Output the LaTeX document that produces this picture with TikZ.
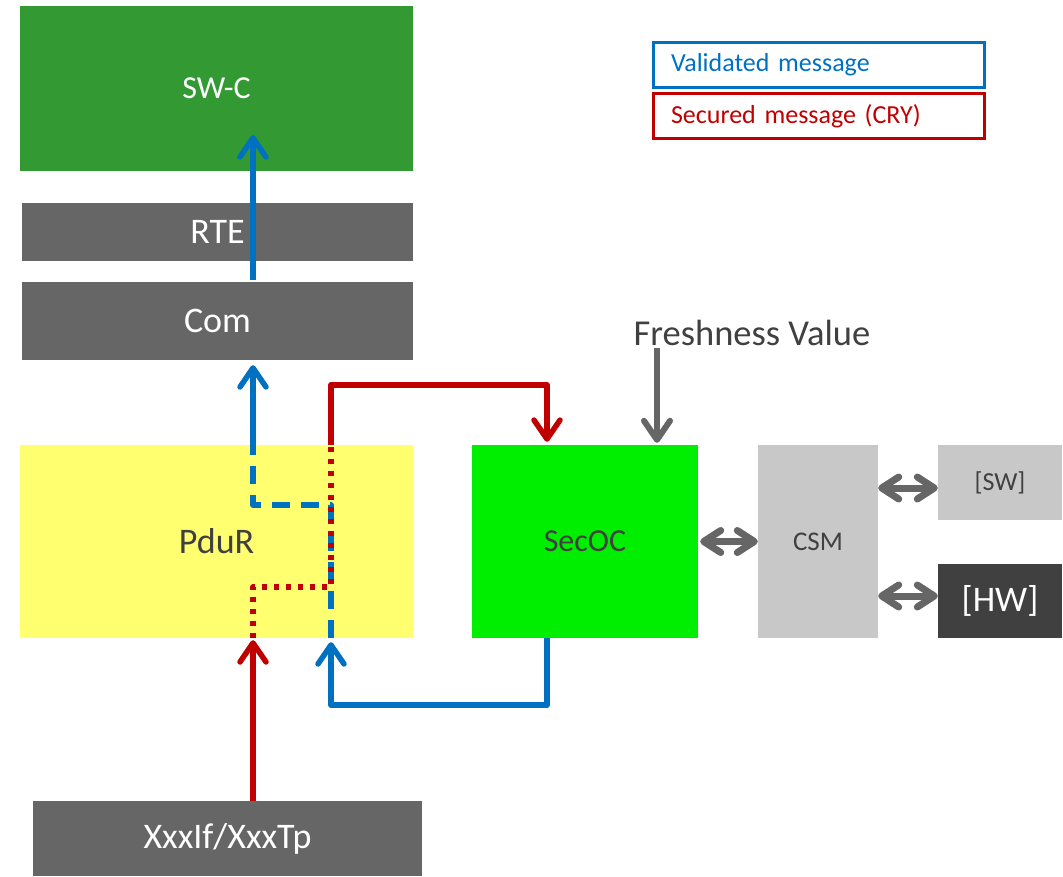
\documentclass[tikz,border=0pt]{standalone}
\usepackage{fontspec}
\setmainfont{Carlito}
\usepackage{tikz}
\usetikzlibrary{arrows.meta,positioning}
\definecolor{swcgreen}{HTML}{339933}
\definecolor{layergray}{HTML}{666666}
\definecolor{pduryellow}{HTML}{FFFF70}
\definecolor{secocgreen}{HTML}{00EE00}
\definecolor{csmgray}{HTML}{C8C8C8}
\definecolor{darkgray}{HTML}{404040}
\definecolor{validblue}{HTML}{0070C0}
\definecolor{securedred}{HTML}{C00000}
\tikzset{
  layer/.style={rectangle, inner sep=0pt, text=white, font=\fontsize{36}{40}\selectfont},
  module/.style={layer, text=darkgray},
  legend/.style={rectangle, draw, line width=3pt, inner xsep=18pt, inner ysep=0pt, minimum height=45pt, text width=295pt, align=left, font=\fontsize{26}{30}\selectfont},
  arr/.style={-{Straight Barb[length=19pt, width=26pt, line cap=round, line join=round]}},
  valid/.style={draw=validblue, line width=5.5pt, line join=round},
  validdash/.style={valid, dash pattern=on 18pt off 11pt},
  secured/.style={draw=securedred, line width=5.5pt, line join=round},
  secureddot/.style={secured, dash pattern=on 5.5pt off 6.5pt},
  grayarr/.style={draw=layergray, line width=6pt, -{Straight Barb[length=19pt, width=26pt, line cap=round, line join=round]}},
  biarr/.style={draw=layergray, line width=7pt, {Straight Barb[length=17pt, width=22pt, line cap=round, line join=round]}-{Straight Barb[length=17pt, width=22pt, line cap=round, line join=round]}}
}
\begin{document}
\begin{tikzpicture}[x=1pt, y=-1pt]
\useasboundingbox (0,0) rectangle (1063,876);
\node[layer, fill=swcgreen, minimum width=393pt, minimum height=165pt, font=\fontsize{32}{36}\selectfont] (swc) at (216.5,88.5) {SW-C};
\node[layer, fill=layergray, minimum width=391pt, minimum height=58pt] (rte) at (217.5,232) {RTE};
\node[layer, fill=layergray, minimum width=391pt, minimum height=78pt] (com) at (217.5,321) {Com};
\node[module, fill=pduryellow, minimum width=393pt, minimum height=193pt] (pdur) at (216.5,541.5) {PduR};
\node[module, fill=secocgreen, minimum width=226pt, minimum height=193pt, font=\fontsize{32}{36}\selectfont] (secoc) at (585,541.5) {SecOC};
\node[module, fill=csmgray, minimum width=120pt, minimum height=193pt, font=\fontsize{27}{30}\selectfont] (csm) at (818,541.5) {CSM};
\node[module, fill=csmgray, minimum width=124pt, minimum height=75pt, font=\fontsize{26}{30}\selectfont] (sw) at (1000,482.5) {[SW]};
\node[layer, fill=darkgray, minimum width=124pt, minimum height=74pt] (hw) at (1000,601) {[HW]};
\node[layer, fill=layergray, minimum width=389pt, minimum height=75pt] (xxx) at (227.5,838.5) {XxxIf/XxxTp};
\node[module, fill=none, inner sep=2pt, font=\fontsize{36.5}{40}\selectfont] (fresh) at (752,333) {Freshness Value};
\node[legend, draw=validblue, text=validblue] (lgvalid) at (818.5,64.5) {Validated message};
\node[legend, draw=securedred, text=securedred] (lgsecured) at (818.5,116) {Secured message (CRY)};

\coordinate (laneA) at (253,0);
\coordinate (laneB) at (331,0);
\coordinate (laneC) at (547,0);
\coordinate (laneD) at (657,0);

\draw[valid, arr] ([yshift=2pt]com.north -| laneA) -- ([yshift=36pt]swc.south -| laneA);
\draw[valid, arr] (secoc.south -| laneC) -- ++(0,67) -| ([yshift=-4pt]pdur.south -| laneB);
\draw[validdash] (pdur.south -| laneB) |- ([yshift=36.5pt]pdur.center -| laneA) -- (pdur.north -| laneA);
\draw[valid, arr] (pdur.north -| laneA) -- ([yshift=-5pt]com.south -| laneA);

\draw[secured, arr] (xxx.north -| laneA) -- ([yshift=-2pt]pdur.south -| laneA);
\draw[secureddot] (pdur.south -| laneA) |- ([yshift=-45.5pt]pdur.center -| laneB) -- (pdur.north -| laneB);
\draw[secured, arr] (pdur.north -| laneB) -- ++(0,-60) -| ([yshift=3pt]secoc.north -| laneC);

\draw[grayarr] (fresh.south -| laneD) -- ([yshift=2pt]secoc.north -| laneD);
\draw[biarr] ([xshift=2pt]secoc.east) -- (csm.west);
\draw[biarr] ([yshift=-5.5pt]csm.east |- sw.west) -- ([yshift=-5.5pt]sw.west);
\draw[biarr] ([yshift=5pt]csm.east |- hw.west) -- ([yshift=5pt]hw.west);
\end{tikzpicture}
\end{document}
